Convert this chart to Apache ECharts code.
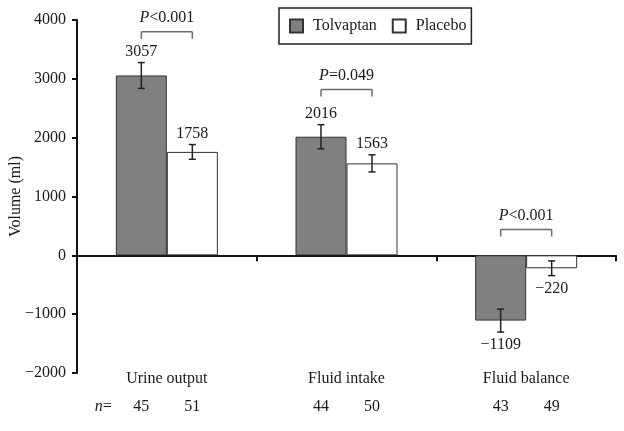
<!DOCTYPE html>
<html>
<head>
<meta charset="utf-8">
<script src="https://cdn.jsdelivr.net/npm/echarts@6/dist/echarts.min.js"></script>
<style>
html,body{margin:0;padding:0;background:#fff;}
#c{width:624px;height:431px;}
</style>
</head>
<body>
<div id="c"></div>
<script>
const categories = ['Urine output', 'Fluid intake', 'Fluid balance'];
const seriesNames = ['Tolvaptan', 'Placebo'];
const tolvaptan = [3057, 2016, -1109];
const placebo = [1758, 1563, -220];
const tolvaptanErr = [220, 205, 195];
const placeboErr = [125, 145, 125];
const tolvaptanN = [45, 44, 43];
const placeboN = [51, 50, 49];
const pLabels = ['<0.001', '=0.049', '<0.001'];
const pLevels = [3800, 2820, 440];
const yTicks = [-2000, -1000, 0, 1000, 2000, 3000, 4000];

const FONT = 'Liberation Serif';
const TXT = '#1a1a1a';
const BAR_W = 51;
const HALF = BAR_W / 2;

function fmt(v) { return v < 0 ? '\u2212' + Math.abs(v) : String(v); }

const errData = [];
categories.forEach((c, i) => {
  errData.push([i, tolvaptan[i], tolvaptanErr[i], 0]);
  errData.push([i, placebo[i], placeboErr[i], 1]);
});

const chart = echarts.init(document.getElementById('c'), null, {renderer: 'canvas'});

chart.setOption({
  animation: false,
  backgroundColor: '#fff',
  textStyle: {fontFamily: FONT},
  grid: {left: 77, right: 8, top: 20, bottom: 58, containLabel: false, outerBoundsMode: 'none'},
  legend: {
    data: seriesNames,
    left: 279, top: 8,
    orient: 'horizontal',
    borderColor: '#222', borderWidth: 1.5,
    padding: [10, 5, 10, 10],
    itemWidth: 13, itemHeight: 13, itemGap: 15,
    icon: 'rect',
    textStyle: {fontFamily: FONT, fontSize: 16, color: TXT, padding: [0, 0, 0, 5]}
  },
  xAxis: [{
    type: 'category',
    data: categories,
    position: 'bottom',
    axisLine: {onZero: true, lineStyle: {color: '#111', width: 2}},
    axisTick: {show: true, length: 6, lineStyle: {color: '#111', width: 2}},
    axisLabel: {show: false},
    splitLine: {show: false}
  }, {
    type: 'category',
    data: categories,
    position: 'bottom',
    axisLine: {show: false, onZero: false},
    axisTick: {show: false},
    axisLabel: {show: true, margin: 6, verticalAlign: 'middle', fontFamily: FONT, fontSize: 16, color: TXT},
    splitLine: {show: false}
  }],
  yAxis: {
    type: 'value',
    min: yTicks[0], max: yTicks[yTicks.length - 1], interval: 1000,
    name: 'Volume (ml)',
    nameLocation: 'middle',
    nameGap: 53,
    nameMoveOverlap: false,
    nameTextStyle: {fontFamily: FONT, fontSize: 16, color: TXT},
    axisLine: {show: true, lineStyle: {color: '#111', width: 2}},
    axisTick: {show: true, length: 5, lineStyle: {color: '#111', width: 2}},
    axisLabel: {fontFamily: FONT, fontSize: 16, color: TXT, margin: 11, formatter: v => fmt(v)},
    splitLine: {show: false}
  },
  series: [{
    name: 'Tolvaptan',
    type: 'bar',
    data: tolvaptan,
    barWidth: BAR_W,
    barGap: '0%',
    itemStyle: {color: '#808080', borderColor: '#333', borderWidth: 1}
  }, {
    name: 'Placebo',
    type: 'bar',
    data: placebo,
    barWidth: BAR_W,
    barGap: '0%',
    itemStyle: {color: '#ffffff', borderColor: '#333', borderWidth: 1}
  }, {
    name: 'errors',
    type: 'custom',
    data: errData,
    encode: {x: 0, y: 1},
    z: 10,
    silent: true,
    renderItem: function (params, api) {
      const i = api.value(0), v = api.value(1), e = api.value(2), s = api.value(3);
      const cx = api.coord([i, 0])[0] + (s === 0 ? -HALF : HALF);
      const yTop = api.coord([i, v + e])[1];
      const yBot = api.coord([i, v - e])[1];
      const cap = 3.5;
      const st = {stroke: '#222', lineWidth: 1.5};
      const children = [
        {type: 'line', shape: {x1: cx, y1: yTop, x2: cx, y2: yBot}, style: st},
        {type: 'line', shape: {x1: cx - cap, y1: yTop, x2: cx + cap, y2: yTop}, style: st},
        {type: 'line', shape: {x1: cx - cap, y1: yBot, x2: cx + cap, y2: yBot}, style: st}
      ];
      const pos = v >= 0;
      children.push({
        type: 'text',
        style: {
          text: fmt(v), x: cx, y: pos ? yTop - 3 : yBot + 5,
          align: 'center', verticalAlign: pos ? 'bottom' : 'top',
          font: '16px "' + FONT + '"', fill: TXT
        }
      });
      return {type: 'group', children: children};
    }
  }, {
    name: 'brackets',
    type: 'custom',
    data: categories.map((c, i) => [i, pLevels[i]]),
    encode: {x: 0, y: 1},
    z: 10,
    silent: true,
    renderItem: function (params, api) {
      const i = params.dataIndex;
      const cc = api.coord([i, pLevels[i]]);
      const x1 = cc[0] - HALF, x2 = cc[0] + HALF, y = cc[1];
      const st = {stroke: '#6a6a6a', lineWidth: 1.5};
      return {type: 'group', children: [
        {type: 'line', shape: {x1: x1, y1: y, x2: x2, y2: y}, style: st},
        {type: 'line', shape: {x1: x1, y1: y, x2: x1, y2: y + 7}, style: st},
        {type: 'line', shape: {x1: x2, y1: y, x2: x2, y2: y + 7}, style: st},
        {type: 'text', style: {
          text: '{i|P}{n|' + pLabels[i] + '}',
          x: cc[0], y: y - 14, align: 'center', verticalAlign: 'middle',
          rich: {
            i: {fontFamily: FONT, fontSize: 16, fontStyle: 'italic', fill: TXT},
            n: {fontFamily: FONT, fontSize: 16, fill: TXT}
          }
        }}
      ]};
    }
  }, {
    name: 'nrow',
    type: 'custom',
    data: categories.map((c, i) => [i, yTicks[0]]),
    encode: {x: 0, y: 1},
    silent: true,
    renderItem: function (params, api) {
      const i = params.dataIndex;
      const cc = api.coord([i, yTicks[0]]);
      const y = cc[1] + 34;
      const font = '16px "' + FONT + '"';
      const children = [
        {type: 'text', style: {text: String(tolvaptanN[i]), x: cc[0] - HALF, y: y, align: 'center', verticalAlign: 'middle', font: font, fill: TXT}},
        {type: 'text', style: {text: String(placeboN[i]), x: cc[0] + HALF, y: y, align: 'center', verticalAlign: 'middle', font: font, fill: TXT}}
      ];
      if (i === 0) {
        children.push({type: 'text', style: {
          text: '{i|n}{n|=}', x: cc[0] - HALF - 38, y: y, align: 'center', verticalAlign: 'middle',
          rich: {
            i: {fontFamily: FONT, fontSize: 16, fontStyle: 'italic', fill: TXT},
            n: {fontFamily: FONT, fontSize: 16, fill: TXT}
          }
        }});
      }
      return {type: 'group', children: children};
    }
  }]
});
</script>
</body>
</html>
